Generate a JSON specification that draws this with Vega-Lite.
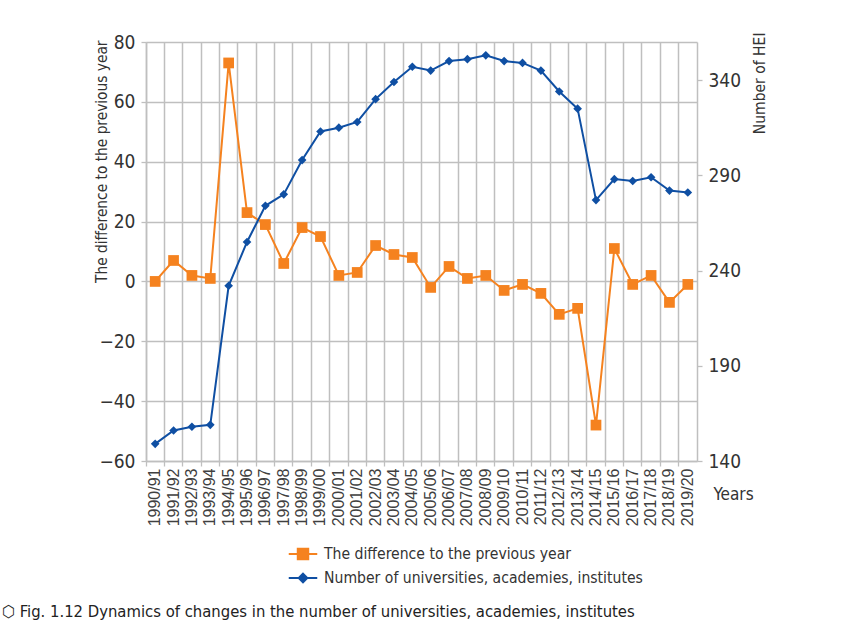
{
  "$schema": "https://vega.github.io/schema/vega-lite/v6.json",
  "width": 551,
  "height": 419,
  "autosize": {"type": "none"},
  "padding": {"left": 146, "top": 42, "right": 148, "bottom": 165},
  "background": "white",
  "config": {
    "view": {"stroke": null},
    "font": "DejaVu Sans Condensed, sans-serif",
    "axis": {
      "domainColor": "#bfbfbf",
      "domainWidth": 1.5,
      "tickColor": "#bfbfbf",
      "tickWidth": 1.3,
      "tickSize": 5,
      "gridColor": "#bfbfbf",
      "gridWidth": 1.5,
      "labelColor": "#333333",
      "titleColor": "#333333",
      "titleFontWeight": "normal",
      "labelFont": "DejaVu Sans Condensed, sans-serif",
      "titleFont": "DejaVu Sans Condensed, sans-serif"
    }
  },
  "title": {
    "text": "⬡ Fig. 1.12 Dynamics of changes in the number of universities, academies, institutes",
    "orient": "bottom",
    "anchor": "start",
    "frame": "group",
    "dx": -144,
    "offset": 16,
    "fontSize": 16.5,
    "fontWeight": "normal",
    "color": "#222222",
    "font": "DejaVu Sans Condensed, sans-serif"
  },
  "data": {
    "values": [
      {"year": "1990/91", "diff": 0, "hei": 149},
      {"year": "1991/92", "diff": 7, "hei": 156},
      {"year": "1992/93", "diff": 2, "hei": 158},
      {"year": "1993/94", "diff": 1, "hei": 159},
      {"year": "1994/95", "diff": 73, "hei": 232},
      {"year": "1995/96", "diff": 23, "hei": 255},
      {"year": "1996/97", "diff": 19, "hei": 274},
      {"year": "1997/98", "diff": 6, "hei": 280},
      {"year": "1998/99", "diff": 18, "hei": 298},
      {"year": "1999/00", "diff": 15, "hei": 313},
      {"year": "2000/01", "diff": 2, "hei": 315},
      {"year": "2001/02", "diff": 3, "hei": 318},
      {"year": "2002/03", "diff": 12, "hei": 330},
      {"year": "2003/04", "diff": 9, "hei": 339},
      {"year": "2004/05", "diff": 8, "hei": 347},
      {"year": "2005/06", "diff": -2, "hei": 345},
      {"year": "2006/07", "diff": 5, "hei": 350},
      {"year": "2007/08", "diff": 1, "hei": 351},
      {"year": "2008/09", "diff": 2, "hei": 353},
      {"year": "2009/10", "diff": -3, "hei": 350},
      {"year": "2010/11", "diff": -1, "hei": 349},
      {"year": "2011/12", "diff": -4, "hei": 345},
      {"year": "2012/13", "diff": -11, "hei": 334},
      {"year": "2013/14", "diff": -9, "hei": 325},
      {"year": "2014/15", "diff": -48, "hei": 277},
      {"year": "2015/16", "diff": 11, "hei": 288},
      {"year": "2016/17", "diff": -1, "hei": 287},
      {"year": "2017/18", "diff": 2, "hei": 289},
      {"year": "2018/19", "diff": -7, "hei": 282},
      {"year": "2019/20", "diff": -1, "hei": 281}
    ]
  },
  "encoding": {
    "x": {
      "field": "year",
      "type": "nominal",
      "sort": null,
      "bandPosition": 0.5,
      "scale": {"type": "band", "paddingInner": 0, "paddingOuter": 0},
      "axis": {
        "title": "Years",
        "titleX": 567,
        "titleY": 33,
        "titleAlign": "left",
        "titleBaseline": "middle",
        "titleAngle": 0,
        "titleFontSize": 17,
        "labelAngle": 270,
        "labelFont": "Liberation Sans, Arial, sans-serif",
        "labelFontSize": 16,
        "labelColor": "#404040",
        "labelPadding": 2,
        "bandPosition": 0,
        "grid": true,
        "ticks": true,
        "domain": true,
        "labelOverlap": false
      }
    }
  },
  "layer": [
    {
      "mark": {
        "type": "line",
        "strokeWidth": 2,
        "point": {"shape": "square", "size": 115, "filled": true, "opacity": 1}
      },
      "encoding": {
        "y": {
          "field": "diff",
          "type": "quantitative",
          "scale": {"domain": [-60, 80], "nice": false, "zero": false},
          "axis": {
            "orient": "left",
            "values": [-60, -40, -20, 0, 20, 40, 60, 80],
            "grid": true,
            "labelFontSize": 19,
            "labelPadding": 6,
            "title": "The difference to the previous year",
            "titleFontSize": 15.3,
            "titleAngle": 270,
            "titleX": -45,
            "titleY": -2,
            "titleAlign": "right",
            "titleBaseline": "middle"
          }
        },
        "color": {
          "datum": "The difference to the previous year",
          "scale": {
            "domain": ["The difference to the previous year", "Number of universities, academies, institutes"],
            "range": ["#f5821f", "#0f4fa3"]
          },
          "legend": {
            "title": null,
            "orient": "none",
            "legendX": 146.5,
            "legendY": 501.5,
            "padding": 0,
            "symbolSize": 361,
            "labelOffset": 10.5,
            "rowPadding": 4,
            "labelFontSize": 15.6,
            "labelColor": "#333333",
            "labelFont": "DejaVu Sans Condensed, sans-serif",
            "labelLimit": 400,
            "encode": {
              "symbols": {
                "update": {
                  "shape": {"signal": "datum.value === 'Number of universities, academies, institutes' ? 'M-1.5,0H1.5M0,-0.45L0.45,0L0,0.45L-0.45,0Z' : 'M-1.5,0H1.5M-0.55,-0.55H0.55V0.55H-0.55Z'"},
                  "fill": {"scale": "color", "field": "value"},
                  "stroke": {"scale": "color", "field": "value"},
                  "strokeWidth": {"value": 2},
                  "opacity": {"value": 1}
                }
              }
            }
          }
        }
      }
    },
    {
      "mark": {
        "type": "line",
        "strokeWidth": 2,
        "point": {"shape": "diamond", "size": 75, "filled": true, "opacity": 1}
      },
      "encoding": {
        "y": {
          "field": "hei",
          "type": "quantitative",
          "scale": {"domain": [140, 360], "nice": false, "zero": false},
          "axis": {
            "orient": "right",
            "values": [140, 190, 240, 290, 340],
            "grid": false,
            "labelFontSize": 19,
            "labelPadding": 6,
            "title": "Number of HEI",
            "titleFontSize": 15.5,
            "titleAngle": 270,
            "titleX": 62,
            "titleY": -10,
            "titleAlign": "right",
            "titleBaseline": "middle"
          }
        },
        "color": {"datum": "Number of universities, academies, institutes"}
      }
    }
  ],
  "resolve": {"scale": {"y": "independent"}}
}
